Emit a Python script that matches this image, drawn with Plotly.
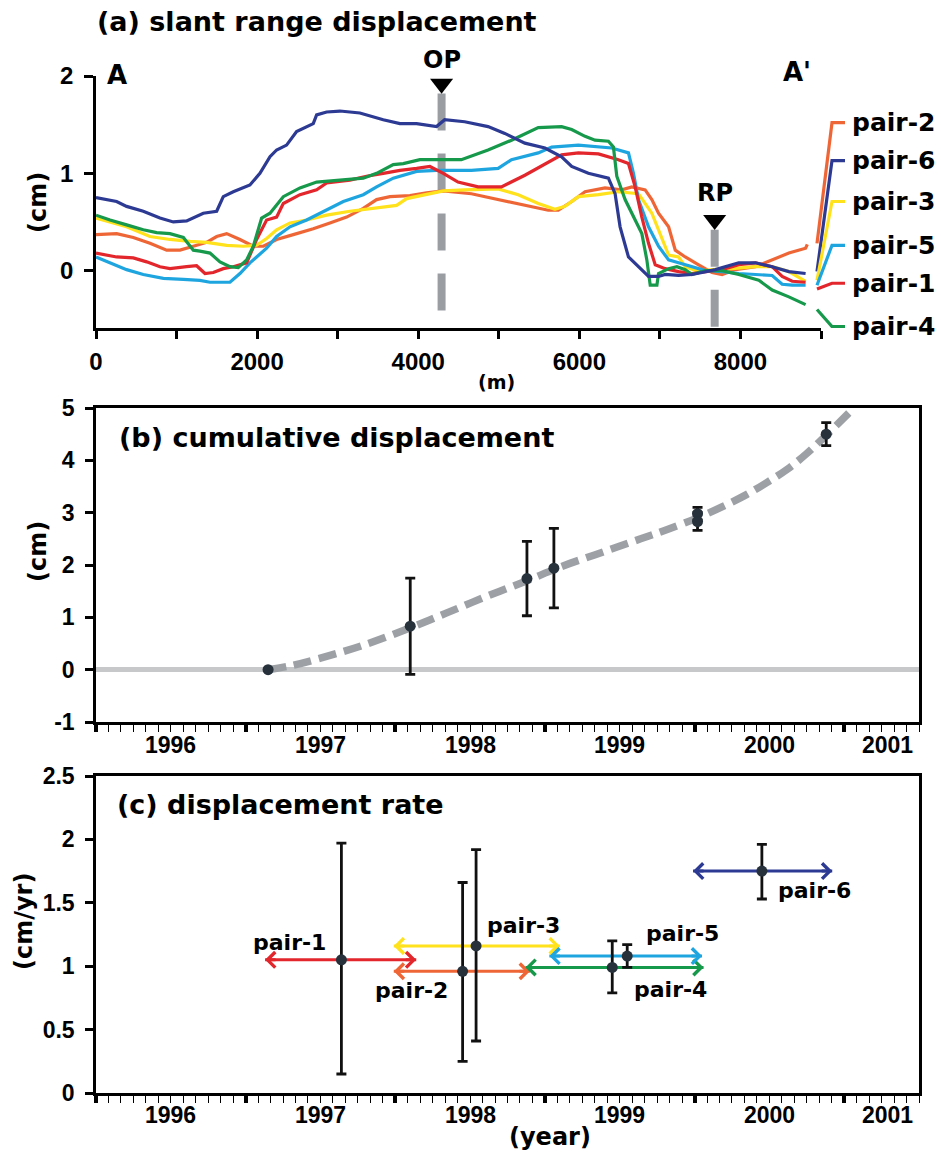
import plotly.graph_objects as go

# ---------------- panel (a): slant range displacement along A-A' ----------------
dist_pair6 = [0, 256, 380, 587, 794, 960, 1125, 1332, 1498, 1580, 1704, 1911, 2035, 2160, 2242, 2366,
              2490, 2697, 2739, 2863, 3028, 3276, 3566, 3773, 3980, 4228, 4328, 4577, 4867, 5075, 5324,
              5573, 5780, 5905, 6112, 6361, 6444, 6506, 6610, 6734, 6859, 6983, 7066, 7232, 7398, 7523,
              7689, 7979, 8187, 8394, 8601, 8809]
disp_pair6 = [0.75, 0.71, 0.66, 0.61, 0.54, 0.50, 0.51, 0.59, 0.61, 0.76, 0.81, 0.88, 1.00, 1.17, 1.24,
              1.29, 1.43, 1.51, 1.60, 1.63, 1.64, 1.62, 1.55, 1.51, 1.51, 1.48, 1.55, 1.53, 1.48, 1.41,
              1.31, 1.26, 1.17, 1.07, 1.00, 0.95, 0.79, 0.45, 0.14, 0.04, -0.06, -0.06, -0.04, -0.05,
              -0.04, -0.02, 0.01, 0.08, 0.08, 0.04, -0.01, -0.03]

dist_pair1 = [0, 256, 463, 629, 794, 918, 1125, 1249, 1353, 1456, 1580, 1704, 1870, 1994, 2118, 2242,
              2325, 2532, 2739, 2863, 3152, 3359, 3566, 3773, 3980, 4145, 4311, 4494, 4743, 5033, 5324,
              5573, 5780, 5988, 6237, 6485, 6610, 6693, 6776, 6859, 6942, 7066, 7232, 7398, 7564, 7772,
              7979, 8187, 8394, 8518, 8643, 8809]
disp_pair1 = [0.18, 0.14, 0.13, 0.09, 0.04, 0.02, 0.04, 0.05, -0.03, -0.02, 0.02, 0.04, 0.08, 0.32,
              0.52, 0.55, 0.69, 0.78, 0.83, 0.90, 0.93, 0.97, 1.00, 1.03, 1.05, 1.07, 1.00, 0.91, 0.86,
              0.86, 0.98, 1.09, 1.19, 1.21, 1.20, 1.14, 1.10, 0.86, 0.55, 0.28, 0.06, 0.02, -0.01, -0.03,
              -0.01, 0.01, 0.06, 0.08, 0.04, -0.06, -0.11, -0.12]

dist_pair5 = [0, 174, 380, 587, 836, 1084, 1290, 1415, 1663, 1787, 1911, 1994, 2118, 2242, 2408, 2615,
              2863, 3070, 3318, 3483, 3690, 3980, 4228, 4660, 4992, 5158, 5490, 5656, 5988, 6237, 6402,
              6610, 6672, 6734, 6859, 6983, 7108, 7232, 7398, 7564, 7772, 7979, 8187, 8394, 8518, 8643,
              8809]
disp_pair5 = [0.14, 0.08, 0.01, -0.04, -0.08, -0.09, -0.10, -0.12, -0.12, -0.03, 0.08, 0.14, 0.23,
              0.35, 0.45, 0.52, 0.62, 0.71, 0.78, 0.86, 0.95, 1.02, 1.03, 1.03, 1.05, 1.14, 1.21, 1.27,
              1.29, 1.27, 1.26, 1.21, 1.00, 0.73, 0.45, 0.25, 0.11, 0.08, 0.04, 0.00, -0.01, -0.03,
              -0.04, -0.05, -0.14, -0.15, -0.15]

dist_pair4 = [0, 174, 380, 587, 753, 918, 1084, 1208, 1290, 1415, 1539, 1663, 1766, 1870, 1953, 2056,
              2160, 2325, 2532, 2739, 3028, 3318, 3483, 3690, 3814, 4021, 4311, 4535, 4867, 5158, 5490,
              5780, 5905, 6071, 6195, 6361, 6423, 6465, 6568, 6693, 6776, 6838, 6880, 6963, 6983, 7108,
              7211, 7315, 7398, 7564, 7772, 7979, 8228, 8394, 8601, 8809]
disp_pair4 = [0.57, 0.52, 0.47, 0.42, 0.39, 0.38, 0.34, 0.21, 0.20, 0.18, 0.09, 0.04, 0.03, 0.11, 0.25,
              0.54, 0.59, 0.76, 0.85, 0.91, 0.93, 0.95, 1.00, 1.09, 1.10, 1.14, 1.14, 1.14, 1.24, 1.34,
              1.47, 1.48, 1.45, 1.38, 1.34, 1.33, 1.27, 0.97, 0.73, 0.52, 0.38, 0.11, -0.15, -0.15,
              -0.03, 0.02, 0.04, 0.01, -0.04, 0.00, 0.00, -0.04, -0.10, -0.20, -0.27, -0.35]

dist_pair3 = [0, 174, 380, 670, 918, 1167, 1373, 1622, 1829, 1994, 2118, 2242, 2408, 2615, 2863, 3152,
              3442, 3731, 3856, 4063, 4311, 4577, 4992, 5241, 5490, 5697, 5822, 5988, 6237, 6485, 6734,
              6900, 6983, 7108, 7232, 7315, 7481, 7647, 7896, 8187, 8394, 8601, 8809]
disp_pair3 = [0.54, 0.50, 0.45, 0.35, 0.32, 0.30, 0.29, 0.26, 0.25, 0.26, 0.33, 0.42, 0.49, 0.52, 0.57,
              0.61, 0.64, 0.67, 0.74, 0.78, 0.82, 0.83, 0.84, 0.78, 0.69, 0.63, 0.66, 0.76, 0.78, 0.81,
              0.79, 0.59, 0.42, 0.16, 0.14, 0.04, -0.01, 0.01, 0.02, 0.04, 0.04, -0.01, -0.11]

dist_pair2 = [0, 256, 463, 670, 877, 1043, 1208, 1373, 1498, 1622, 1787, 1953, 2077, 2242, 2449, 2697,
              2904, 3111, 3318, 3483, 3649, 3897, 4104, 4311, 4660, 4992, 5282, 5614, 5739, 5905, 6071,
              6319, 6527, 6651, 6817, 6900, 6983, 7108, 7191, 7315, 7481, 7647, 7772, 7938, 8187, 8394,
              8601, 8809, 8830]
disp_pair2 = [0.37, 0.38, 0.34, 0.28, 0.21, 0.21, 0.25, 0.29, 0.35, 0.38, 0.32, 0.25, 0.25, 0.32, 0.37,
              0.43, 0.49, 0.55, 0.64, 0.73, 0.76, 0.77, 0.80, 0.82, 0.79, 0.73, 0.68, 0.62, 0.62, 0.71,
              0.81, 0.85, 0.83, 0.86, 0.83, 0.73, 0.59, 0.45, 0.21, 0.14, 0.06, -0.02, -0.04, 0.01, 0.04,
              0.11, 0.18, 0.23, 0.27]

pair_colors = {
    "pair-1": "#e2262c",
    "pair-2": "#ef6636",
    "pair-3": "#ffe11c",
    "pair-4": "#16994b",
    "pair-5": "#1ea5e0",
    "pair-6": "#2d3a93",
}

# right-hand labels of panel (a), top to bottom, with their leader lines
label_order_a = ["pair-2", "pair-6", "pair-3", "pair-5", "pair-1", "pair-4"]
label_y_a = [1.52, 1.13, 0.71, 0.26, -0.13, -0.575]
lead_start_y_a = [0.28, -0.01, -0.10, -0.15, -0.19, -0.40]

# observation point (OP) and reference point (RP) along the profile
op_x = 4290
op_bar = [1.82, -0.43]
rp_x = 7680
rp_bar = [0.42, -0.59]
dist_ticks = [0, 1000, 2000, 3000, 4000, 5000, 6000, 7000, 8000, 9000]
dist_ticktext = ["0", "", "2000", "", "4000", "", "6000", "", "8000", ""]

# ---------------- panel (b): cumulative displacement ----------------
acq_year = [1996.65, 1997.60, 1998.38, 1998.56, 1999.52, 1999.52, 2000.38]
cum_disp = [0.0, 0.83, 1.74, 1.94, 2.98, 2.83, 4.50]
cum_err = [0.0, 0.92, 0.71, 0.76, 0.12, 0.17, 0.22]
cum_ticks = [-1, 0, 1, 2, 3, 4, 5]
cum_ticktext = ["-1", "0", "1", "2", "3", "4", "5"]

trend_year = [1996.65, 1996.81, 1997.00, 1997.29, 1997.60, 1997.84, 1998.11, 1998.38, 1998.61,
              1998.87, 1999.14, 1999.30, 1999.52, 1999.69, 1999.85, 1999.98, 2000.12, 2000.25,
              2000.38, 2000.54]
trend_disp = [0.0, 0.08, 0.22, 0.47, 0.80, 1.08, 1.40, 1.70, 1.97, 2.23, 2.50, 2.66, 2.90, 3.12,
              3.35, 3.57, 3.83, 4.13, 4.48, 4.93]

# ---------------- panel (c): displacement rate per pair ----------------
pair_names = ["pair-1", "pair-2", "pair-3", "pair-4", "pair-5", "pair-6"]
pair_start = [1996.63, 1997.49, 1997.49, 1998.37, 1998.53, 1999.49]
pair_end = [1997.64, 1998.40, 1998.60, 1999.56, 1999.55, 2000.42]
pair_mid = [1997.14, 1997.95, 1998.04, 1998.95, 1999.05, 1999.95]
rate = [1.05, 0.96, 1.16, 0.99, 1.08, 1.75]
rate_hi = [1.97, 1.66, 1.92, 1.20, 1.17, 1.96]
rate_lo = [0.15, 0.25, 0.41, 0.79, 0.99, 1.53]
pair_label_x = [1996.79, 1997.61, 1998.36, 1999.34, 1999.42, 2000.30]
pair_label_y = [1.19, 0.81, 1.32, 0.82, 1.26, 1.60]

year_labels = [1996, 1997, 1998, 1999, 2000, 2001]
year_major = [1995.5, 1996.5, 1997.5, 1998.5, 1999.5, 2000.5]

# ---------------- page geometry ----------------
W, H = 941, 1153
ML, MR, MT, MB = 96, 22, 76, 60
PW, PH = W - ML - MR, H - MT - MB


def px_x(p):
    return (p - ML) / PW


def px_y(p):
    return (H - MB - p) / PH


def ydom(top, bottom):
    return [px_y(bottom), px_y(top)]


TXT = dict(family="DejaVu Sans", weight="bold", color="black")
TICK = dict(family="Liberation Sans, Arial", weight="bold", color="black")
AX_LINE = 2.5

fig = go.Figure()

# panel (a) marker bars (drawn first so the profiles sit on top)
for bx, by in ((op_x, op_bar), (rp_x, rp_bar)):
    fig.add_trace(go.Scatter(x=[bx, bx], y=by, mode="lines", xaxis="x", yaxis="y",
                             line=dict(color="#9a9ea3", width=8, dash="37px,23px"),
                             hoverinfo="skip", showlegend=False))
fig.add_trace(go.Scatter(x=[op_x, rp_x], y=[1.92, 0.52], mode="markers", xaxis="x", yaxis="y",
                         marker=dict(symbol="triangle-down", size=20, color="black"),
                         cliponaxis=False, hoverinfo="skip", showlegend=False))

profiles = [
    ("pair-2", dist_pair2, disp_pair2),
    ("pair-3", dist_pair3, disp_pair3),
    ("pair-5", dist_pair5, disp_pair5),
    ("pair-1", dist_pair1, disp_pair1),
    ("pair-4", dist_pair4, disp_pair4),
    ("pair-6", dist_pair6, disp_pair6),
]
for name, xs, ys in profiles:
    fig.add_trace(go.Scatter(x=xs, y=ys, mode="lines", name=name, xaxis="x", yaxis="y",
                             line=dict(color=pair_colors[name], width=3.2),
                             showlegend=False))

# panel (b)
fig.add_trace(go.Scatter(x=trend_year, y=trend_disp, mode="lines", xaxis="x2", yaxis="y2",
                         line=dict(color="#9da1a6", width=7.5, dash="18px,8px", shape="spline"),
                         hoverinfo="skip", showlegend=False))
fig.add_trace(go.Scatter(x=acq_year, y=cum_disp, mode="markers", xaxis="x2", yaxis="y2",
                         marker=dict(size=11, color="#26313b"),
                         error_y=dict(type="data", array=cum_err, color="#111111",
                                      thickness=2.8, width=5),
                         showlegend=False))

# panel (c): time span of each pair as a horizontal bar
for name, t0, t1, r in zip(pair_names, pair_start, pair_end, rate):
    fig.add_trace(go.Scatter(x=[t0, t1], y=[r, r], mode="lines", xaxis="x3", yaxis="y3",
                             line=dict(color=pair_colors[name], width=3),
                             hoverinfo="skip", showlegend=False))
fig.add_trace(go.Scatter(x=pair_mid, y=rate, mode="markers", xaxis="x3", yaxis="y3",
                         marker=dict(size=11, color="#26313b"),
                         error_y=dict(type="data", symmetric=False,
                                      array=[h - r for h, r in zip(rate_hi, rate)],
                                      arrayminus=[r - l for l, r in zip(rate_lo, rate)],
                                      color="#111111", thickness=2.8, width=5),
                         showlegend=False))

ann = []


def text(t, x, y, size, xref="paper", yref="paper", **kw):
    ann.append(dict(text=t, x=x, y=y, xref=xref, yref=yref, showarrow=False,
                    font=dict(TXT, size=size), **kw))


# panel (a) texts
text("(a) slant range displacement", px_x(95), px_y(22), 27, xanchor="left", yanchor="middle")
text("(cm)", px_x(38), px_y(203), 24, textangle=-90, xanchor="center", yanchor="middle")
text("(m)", px_x(496), px_y(382), 19, xanchor="center", yanchor="middle")
text("A", px_x(117), px_y(75), 26, xanchor="center", yanchor="middle")
text("A'", px_x(797), px_y(72), 26, xanchor="center", yanchor="middle")
text("OP", op_x, px_y(60), 24, xref="x", xanchor="center", yanchor="middle")
text("RP", rp_x, 0.80, 24, xref="x", yref="y", xanchor="center", yanchor="middle")

shapes = []
for name, ly, sy in zip(label_order_a, label_y_a, lead_start_y_a):
    shapes.append(dict(type="path", xref="paper", yref="y",
                       path=f"M {px_x(817)},{sy} L {px_x(832)},{ly} L {px_x(845)},{ly}",
                       line=dict(color=pair_colors[name], width=3.2)))
    text(name, px_x(850), ly, 25, yref="y", xanchor="left", yanchor="middle")

# panel (b) texts
text("(b) cumulative displacement", px_x(117), px_y(438), 27, xanchor="left", yanchor="middle")
text("(cm)", px_x(38), px_y(552), 24, textangle=-90, xanchor="center", yanchor="middle")

# panel (c) texts
text("(c) displacement rate", px_x(115), px_y(804), 27, xanchor="left", yanchor="middle")
text("(cm/yr)", px_x(24), px_y(922), 24, textangle=-90, xanchor="center", yanchor="middle")
text("(year)", px_x(550), px_y(1137), 24, xanchor="center", yanchor="middle")
for name, lx, ly in zip(pair_names, pair_label_x, pair_label_y):
    text(name, lx, ly, 22, xref="x3", yref="y3", xanchor="center", yanchor="middle")

# open arrow heads at both ends of each pair span
for name, t0, t1, r in zip(pair_names, pair_start, pair_end, rate):
    for tip, off in ((t1, -12), (t0, 12)):
        ann.append(dict(x=tip, y=r, xref="x3", yref="y3", ax=off, ay=0, text="",
                        showarrow=True, arrowhead=4, arrowsize=1.0, arrowwidth=3,
                        arrowcolor=pair_colors[name], standoff=0))

# year labels sit between the mid-year ticks
for xr, ypix in (("x2", 745), ("x3", 1115)):
    for yr in year_labels:
        last = yr == year_labels[-1]
        ann.append(dict(text=str(yr), x=yr, y=px_y(ypix), xref=xr, yref="paper",
                        showarrow=False, font=dict(TICK, size=23),
                        xanchor="right" if last else "center", yanchor="middle",
                        xshift=-4 if last else 0))

year_axis = dict(domain=[0, 1], range=[1995.5, 2001.0], tickmode="array", tickvals=year_major,
                 showticklabels=False, ticks="outside", ticklen=7, tickwidth=3.5,
                 tickcolor="black",
                 minor=dict(ticks="outside", tickmode="linear", tick0=1995.5, dtick=1 / 12,
                            ticklen=7, tickwidth=1.2, tickcolor="black", showgrid=False),
                 showline=True, linecolor="black", linewidth=AX_LINE, mirror=True,
                 showgrid=False, zeroline=False)

fig.update_layout(
    width=W, height=H, autosize=False,
    margin=dict(l=ML, r=MR, t=MT, b=MB),
    paper_bgcolor="white", plot_bgcolor="white",
    showlegend=False,
    xaxis=dict(domain=[0, px_x(821)], range=[0, 9000], anchor="y",
               tickmode="array", tickvals=dist_ticks, ticktext=dist_ticktext,
               ticks="outside", ticklen=8, tickwidth=2.5, tickcolor="black",
               tickfont=dict(TICK, size=24), ticklabelstandoff=2,
               showline=True, linecolor="black", linewidth=AX_LINE,
               showgrid=False, zeroline=False),
    yaxis=dict(domain=ydom(76, 328), range=[-0.59, 2.0], anchor="x",
               tickmode="array", tickvals=[0, 1, 2],
               ticks="outside", ticklen=9, tickwidth=2.5, tickcolor="black",
               tickfont=dict(TICK, size=24), ticklabelstandoff=6,
               showline=True, linecolor="black", linewidth=AX_LINE,
               showgrid=False, zeroline=False),
    xaxis2=dict(year_axis, anchor="y2"),
    yaxis2=dict(domain=ydom(408, 722), range=[-1, 5], anchor="x2",
                tickmode="array", tickvals=cum_ticks, ticktext=cum_ticktext,
                ticks="outside", ticklen=8, tickwidth=2.5, tickcolor="black",
                tickfont=dict(TICK, size=23), ticklabelstandoff=6,
                showline=True, linecolor="black", linewidth=AX_LINE, mirror=True,
                showgrid=False, zeroline=True, zerolinecolor="#c6c8ca", zerolinewidth=5),
    xaxis3=dict(year_axis, anchor="y3"),
    yaxis3=dict(domain=ydom(776, 1093), range=[0, 2.5], anchor="x3",
                tickmode="array", tickvals=[0, 0.5, 1, 1.5, 2, 2.5],
                ticktext=["0", "0.5", "1", "1.5", "2", "2.5"],
                ticks="outside", ticklen=8, tickwidth=2.5, tickcolor="black",
                tickfont=dict(TICK, size=23), ticklabelstandoff=6,
                showline=True, linecolor="black", linewidth=AX_LINE, mirror=True,
                showgrid=False, zeroline=False),
    annotations=ann,
    shapes=shapes,
)

fig.write_html("out.html")
